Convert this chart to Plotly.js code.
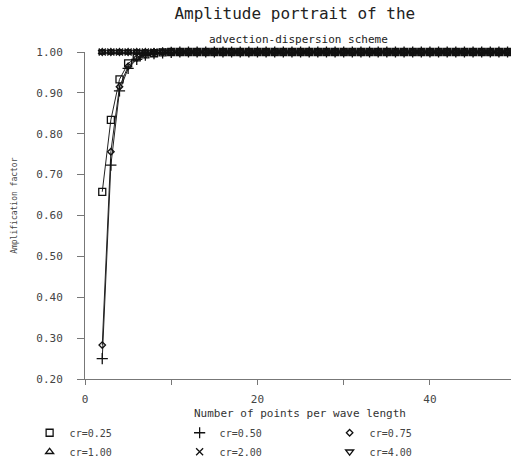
<!DOCTYPE html>
<html>
<head>
<meta charset="utf-8">
<script src="https://cdn.plot.ly/plotly-3.0.1.min.js"></script>
<style>html,body{margin:0;padding:0;background:#fff;}#chart{width:511px;height:458px;}</style>
</head>
<body>
<div id="chart"></div>
<script>
// Number of points per wave length
var points = [2,3,4,5,6,7,8,9,10,11,12,13,14,15,16,17,18,19,20,21,22,23,24,25,26,27,28,29,30,31,32,33,34,35,36,37,38,39,40,41,42,43,44,45,46,47,48,49,50];

var seriesNames = ["cr=0.25", "cr=0.50", "cr=0.75", "cr=1.00", "cr=2.00", "cr=4.00"];

var cr025 = [0.658,0.834,0.933,0.972,0.987,0.994,0.997,0.999,1.0,1.0,1.0,1.0,1.0,1.0,1.0,1.0,1.0,1.0,1.0,1.0,1.0,1.0,1.0,1.0,1.0,1.0,1.0,1.0,1.0,1.0,1.0,1.0,1.0,1.0,1.0,1.0,1.0,1.0,1.0,1.0,1.0,1.0,1.0,1.0,1.0,1.0,1.0,1.0,1.0];
var cr050 = [0.250,0.723,0.905,0.960,0.982,0.992,0.996,0.998,0.999,1.0,1.0,1.0,1.0,1.0,1.0,1.0,1.0,1.0,1.0,1.0,1.0,1.0,1.0,1.0,1.0,1.0,1.0,1.0,1.0,1.0,1.0,1.0,1.0,1.0,1.0,1.0,1.0,1.0,1.0,1.0,1.0,1.0,1.0,1.0,1.0,1.0,1.0,1.0,1.0];
var cr075 = [0.283,0.756,0.915,0.965,0.985,0.993,0.997,0.999,1.0,1.0,1.0,1.0,1.0,1.0,1.0,1.0,1.0,1.0,1.0,1.0,1.0,1.0,1.0,1.0,1.0,1.0,1.0,1.0,1.0,1.0,1.0,1.0,1.0,1.0,1.0,1.0,1.0,1.0,1.0,1.0,1.0,1.0,1.0,1.0,1.0,1.0,1.0,1.0,1.0];
var cr100 = [1.0,1.0,1.0,1.0,1.0,1.0,1.0,1.0,1.0,1.0,1.0,1.0,1.0,1.0,1.0,1.0,1.0,1.0,1.0,1.0,1.0,1.0,1.0,1.0,1.0,1.0,1.0,1.0,1.0,1.0,1.0,1.0,1.0,1.0,1.0,1.0,1.0,1.0,1.0,1.0,1.0,1.0,1.0,1.0,1.0,1.0,1.0,1.0,1.0];
var cr200 = [1.0,1.0,1.0,1.0,1.0,1.0,1.0,1.0,1.0,1.0,1.0,1.0,1.0,1.0,1.0,1.0,1.0,1.0,1.0,1.0,1.0,1.0,1.0,1.0,1.0,1.0,1.0,1.0,1.0,1.0,1.0,1.0,1.0,1.0,1.0,1.0,1.0,1.0,1.0,1.0,1.0,1.0,1.0,1.0,1.0,1.0,1.0,1.0,1.0];
var cr400 = [1.0,1.0,1.0,1.0,1.0,1.0,1.0,1.0,1.0,1.0,1.0,1.0,1.0,1.0,1.0,1.0,1.0,1.0,1.0,1.0,1.0,1.0,1.0,1.0,1.0,1.0,1.0,1.0,1.0,1.0,1.0,1.0,1.0,1.0,1.0,1.0,1.0,1.0,1.0,1.0,1.0,1.0,1.0,1.0,1.0,1.0,1.0,1.0,1.0];

var yTickVals = [0.2,0.3,0.4,0.5,0.6,0.7,0.8,0.9,1.0];
var yTickText = ["0.20","0.30","0.40","0.50","0.60","0.70","0.80","0.90","1.00"];
var xTickVals = [0,10,20,30,40];
var xTickText = ["0","","20","","40"];

var seriesValues = [cr025, cr050, cr075, cr100, cr200, cr400];
var symbols = ["square-open","cross-thin-open","diamond-open","triangle-up-open","x-thin-open","triangle-down-open"];
var sizes = [7,8,5,7,7,7];

var MONO = "'DejaVu Sans Mono', 'Liberation Mono', monospace";
var traces = [];
seriesValues.forEach(function(vals, i){
  traces.push({
    x: points, y: vals, type: 'scatter', mode: 'lines',
    line: {color: '#222', width: 1}, showlegend: false, hoverinfo: 'skip', cliponaxis: false
  });
});
seriesValues.forEach(function(vals, i){
  traces.push({
    x: points, y: vals, type: 'scatter', mode: 'markers', name: seriesNames[i],
    marker: {symbol: symbols[i], size: sizes[i], color: '#111', line: {color: '#111', width: 1.3}},
    cliponaxis: false
  });
});

var layout = {
  width: 511, height: 458,
  margin: {l: 85, r: 0, t: 52, b: 79, autoexpand: false},
  paper_bgcolor: '#fff', plot_bgcolor: '#fff',
  font: {family: MONO, color: '#444', size: 11},
  title: {text: 'Amplitude portrait of the', font: {family: MONO, size: 16, color: '#222'},
          x: 0.577, xref: 'container', xanchor: 'center', y: 0.970, yref: 'container', yanchor: 'middle'},
  xaxis: {range: [0, 49.4], tickvals: xTickVals, ticktext: xTickText, ticks: 'outside', ticklen: 5,
          tickcolor: '#777', showline: true, linecolor: '#777', linewidth: 1, showgrid: false, zeroline: false,
          ticklabelstandoff: 5, tickfont: {family: MONO, size: 11, color: '#444'}},
  yaxis: {range: [0.2, 1.0], tickvals: yTickVals, ticktext: yTickText, ticks: 'outside', ticklen: 7,
          tickcolor: '#777', showline: true, linecolor: '#777', linewidth: 1, showgrid: false, zeroline: false,
          ticklabelstandoff: 12, tickfont: {family: MONO, size: 11, color: '#444'}},
  showlegend: true,
  legend: {orientation: 'h', x: -0.13, xanchor: 'left', y: -0.12, yanchor: 'top',
           entrywidth: 105, font: {family: MONO, size: 10, color: '#444'}, bgcolor: 'rgba(0,0,0,0)'},
  annotations: [
    {text: 'advection-dispersion scheme', xref: 'paper', yref: 'paper', x: 0.5, y: 1.037,
     showarrow: false, xanchor: 'center', yanchor: 'middle', font: {family: MONO, size: 11, color: '#222'}},
    {text: 'Number of points per wave length', xref: 'paper', yref: 'paper', x: 0.505, y: -0.104,
     showarrow: false, xanchor: 'center', yanchor: 'middle', font: {family: MONO, size: 11, color: '#333'}},
    {text: 'Amplification factor', xref: 'paper', yref: 'paper', x: -0.164, y: 0.53, textangle: -90,
     showarrow: false, xanchor: 'center', yanchor: 'middle', font: {family: MONO, size: 8, color: '#444'}}
  ]
};

Plotly.newPlot('chart', traces, layout, {displayModeBar: false, staticPlot: true});
</script>
</body>
</html>
